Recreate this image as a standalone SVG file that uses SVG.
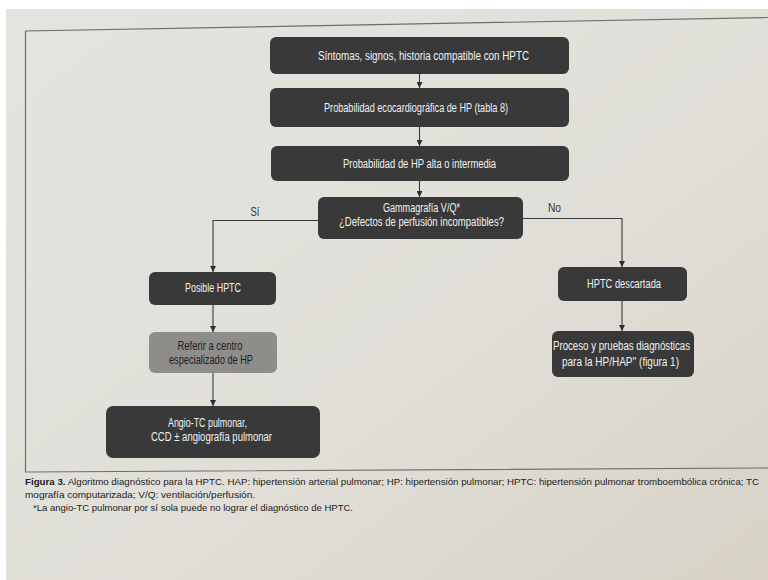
<svg xmlns="http://www.w3.org/2000/svg" width="768" height="580" viewBox="0 0 768 580">
<defs>
<linearGradient id="paper" x1="0" y1="0" x2="1" y2="1">
<stop offset="0" stop-color="#e4e4df"/>
<stop offset="0.6" stop-color="#e0ded7"/>
<stop offset="1" stop-color="#d8d2c6"/>
</linearGradient>
<marker id="arr" viewBox="0 0 6 6" refX="6" refY="3" markerWidth="6" markerHeight="6" markerUnits="userSpaceOnUse" orient="auto">
<path d="M0,0 L6,3 L0,6 Z" fill="#2e2e2e"/>
</marker>
<style>
.box{fill:#393939;}
.grey{fill:#8e8d8a;}
.t{font-family:"Liberation Sans Narrow","Liberation Sans",Arial,sans-serif;font-size:12.5px;fill:#f2f2f2;text-anchor:middle;}
.tg{fill:#1e1e1e;}
.lbl{font-family:"Liberation Sans Narrow","Liberation Sans",Arial,sans-serif;font-size:12.5px;fill:#333;text-anchor:middle;}
.c{fill:none;stroke:#3a3a3a;stroke-width:1.1;}
.frame{fill:none;stroke:#6e6e6a;stroke-width:1.2;}
.cap1{font-family:"Liberation Sans Narrow","Liberation Sans",Arial,sans-serif;font-size:9.8px;fill:#222;}
</style>
</defs>
<rect x="0" y="0" width="768" height="580" fill="#ffffff"/>
<rect x="6" y="9" width="762" height="571" fill="url(#paper)"/>
<path class="frame" d="M768 17.5 L25.5 31 L25.5 472 L768 468"/>

<g id="connectors">
<path class="c" d="M419.5 74 V88" marker-end="url(#arr)"/>
<path class="c" d="M419.5 127 V146" marker-end="url(#arr)"/>
<path class="c" d="M419.5 181 V197" marker-end="url(#arr)"/>
<path class="c" d="M318 220.5 H213 V272" marker-end="url(#arr)"/>
<path class="c" d="M523 218.5 H622 V267" marker-end="url(#arr)"/>
<path class="c" d="M213 305 V332" marker-end="url(#arr)"/>
<path class="c" d="M213 373 V406" marker-end="url(#arr)"/>
<path class="c" d="M622 301 V331" marker-end="url(#arr)"/>
<text class="lbl" x="255" y="216" textLength="9" lengthAdjust="spacingAndGlyphs">Sí</text>
<text class="lbl" x="554.5" y="212" textLength="13" lengthAdjust="spacingAndGlyphs">No</text>
</g>

<g id="n1">
<rect class="box" x="270" y="37" width="299" height="37" rx="6"/>
<text class="t" x="423.5" y="59.5" textLength="211" lengthAdjust="spacingAndGlyphs">Síntomas, signos, historia compatible con HPTC</text>
</g>
<g id="n2">
<rect class="box" x="270" y="88" width="299" height="39" rx="6"/>
<text class="t" x="416" y="112" textLength="184" lengthAdjust="spacingAndGlyphs">Probabilidad ecocardiográfica de HP (tabla 8)</text>
</g>
<g id="n3">
<rect class="box" x="271" y="146" width="298" height="35" rx="6"/>
<text class="t" x="419.5" y="168" textLength="153" lengthAdjust="spacingAndGlyphs">Probabilidad de HP alta o intermedia</text>
</g>
<g id="n4">
<rect class="box" x="318" y="197" width="205" height="42" rx="6"/>
<text class="t" x="421.5" y="212" textLength="77" lengthAdjust="spacingAndGlyphs">Gammagrafía V/Q*</text>
<text class="t" x="421.5" y="226" textLength="165" lengthAdjust="spacingAndGlyphs">¿Defectos de perfusión incompatibles?</text>
</g>
<g id="n5">
<rect class="box" x="149" y="272" width="127" height="33" rx="6"/>
<text class="t" x="213" y="292" textLength="56" lengthAdjust="spacingAndGlyphs">Posible HPTC</text>
</g>
<g id="n6">
<rect class="grey" x="149" y="332" width="128" height="41" rx="6"/>
<text class="t tg" x="210" y="350" textLength="65" lengthAdjust="spacingAndGlyphs">Referir a centro</text>
<text class="t tg" x="211" y="364" textLength="84" lengthAdjust="spacingAndGlyphs">especializado de HP</text>
</g>
<g id="n7">
<rect class="box" x="106" y="406" width="214" height="52" rx="7"/>
<text class="t" x="207.5" y="427" textLength="79" lengthAdjust="spacingAndGlyphs">Angio-TC pulmonar,</text>
<text class="t" x="211.5" y="441" textLength="121" lengthAdjust="spacingAndGlyphs">CCD ± angiografía pulmonar</text>
</g>
<g id="n8">
<rect class="box" x="558" y="267" width="129" height="34" rx="6"/>
<text class="t" x="624" y="288" textLength="74" lengthAdjust="spacingAndGlyphs">HPTC descartada</text>
</g>
<g id="n9">
<rect class="box" x="552" y="331" width="142" height="46" rx="6"/>
<text class="t" x="621.5" y="350" textLength="137" lengthAdjust="spacingAndGlyphs">Proceso y pruebas diagnósticas</text>
<text class="t" x="620.5" y="366" textLength="117" lengthAdjust="spacingAndGlyphs">para la HP/HAP'' (figura 1)</text>
</g>

<g id="caption">
<text class="cap1" x="25" y="485" textLength="734" lengthAdjust="spacingAndGlyphs"><tspan font-weight="bold">Figura 3.</tspan> Algoritmo diagnóstico para la HPTC. HAP: hipertensión arterial pulmonar; HP: hipertensión pulmonar; HPTC: hipertensión pulmonar tromboembólica crónica; TC</text>
<text class="cap1" x="25" y="498" textLength="230" lengthAdjust="spacingAndGlyphs">mografía computarizada; V/Q: ventilación/perfusión.</text>
<text class="cap1" x="33" y="511" textLength="320" lengthAdjust="spacingAndGlyphs">*La angio-TC pulmonar por sí sola puede no lograr el diagnóstico de HPTC.</text>
</g>
</svg>
